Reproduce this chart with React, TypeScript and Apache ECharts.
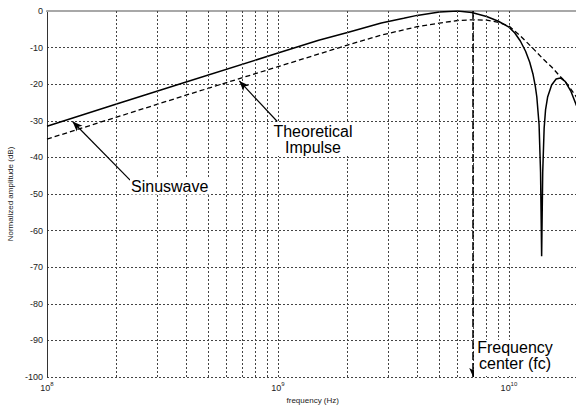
import React, { useEffect, useRef } from "react";
import * as echarts from "echarts";

// Frequency response samples (Hz, dB)
const sinusFreq = [
  1e8, 2e8, 4e8, 1e9, 1.5e9, 2e9, 2.8e9, 3.5e9, 4e9, 5e9, 6e9, 6.9e9, 8e9, 9e9,
  1e10, 1.06e10, 1.12e10, 1.18e10, 1.23e10, 1.27e10, 1.3e10, 1.32e10, 1.35e10,
  1.37e10, 1.385e10, 1.4e10, 1.42e10, 1.44e10, 1.47e10, 1.53e10, 1.6e10,
  1.67e10, 1.75e10, 1.85e10, 1.95e10, 2e10,
];
const sinusDb = [
  -31.5, -25.4, -19.4, -11.5, -8, -5.9, -3.3, -2, -1.2, -0.3, 0, -0.4, -1.5, -2.8,
  -4.4, -6, -8.2, -11, -14, -17.2, -20.5, -23.5, -31,
  -44, -67, -44, -32, -27, -23.5, -20.2, -18.6,
  -18.3, -19.2, -21.8, -25.5, -27,
];

const impulseFreq = [
  1e8, 2e8, 4e8, 1e9, 2e9, 2.8e9, 4e9, 5e9, 6e9, 7e9, 8e9, 9e9, 1e10, 1.12e10,
  1.27e10, 1.4e10, 1.53e10, 1.65e10, 1.75e10, 1.85e10, 1.95e10, 2e10,
];
const impulseDb = [
  -35, -29, -23, -15.2, -9.3, -6.6, -4.3, -3.3, -2.6, -2.4, -2.5, -3.1, -4.1, -6.8,
  -10.2, -13, -15.3, -17.6, -19.2, -21.3, -23.3, -24.5,
];

// Vertical grid positions on the log axis
const gridFreqs = [
  2e8, 3e8, 4e8, 5e8, 6e8, 7e8, 8e8, 9e8, 1e9,
  2e9, 3e9, 4e9, 5e9, 6e9, 7e9, 8e9, 9e9, 1e10,
];

const dbRange = [0, -100];
const centerFreq = 7e9;

// Annotation arrows: [tail, head] in (Hz, dB)
const sinusArrow = [[2.29e8, -46.2], [1.29e8, -30.2]];
const impulseArrow = [[9.93e8, -30.2], [6.8e8, -19.1]];

const FONT = '"Liberation Sans", Arial, Helvetica, sans-serif';

export default function App() {
  const ref = useRef<HTMLDivElement>(null);

  useEffect(() => {
    if (!ref.current) return;
    const chart = echarts.init(ref.current, null, { renderer: "svg" });

    const arrowLine = (pts: number[][]) => [
      { coord: pts[0] },
      { coord: pts[1] },
    ];

    chart.setOption({
      animation: false,
      backgroundColor: "#fff",
      grid: {
        left: 47,
        right: -2.5,
        top: 11,
        bottom: 30,
        outerBoundsMode: "none",
      },
      xAxis: [
        {
          type: "log",
          logBase: 10,
          min: 1e8,
          max: 2e10,
          position: "bottom",
          axisLine: { show: true, lineStyle: { color: "#333", width: 1 } },
          axisTick: { show: false },
          splitLine: { show: false },
          axisLabel: {
            margin: 4,
            color: "#222",
            fontFamily: FONT,
            formatter: (v: number) => {
              const e = Math.log10(v);
              const r = Math.round(e);
              if (Math.abs(e - r) > 1e-6) return "";
              return `{b|10}{s|${r}}`;
            },
            rich: {
              b: { fontSize: 9, fontFamily: FONT, color: "#222" },
              s: {
                fontSize: 6,
                fontFamily: FONT,
                color: "#222",
                padding: [0, 0, 7, 0],
              },
            },
          },
          name: "frequency (Hz)",
          nameLocation: "middle",
          nameGap: 18,
          nameTextStyle: { fontSize: 8, color: "#222", fontFamily: FONT },
        },
        {
          type: "log",
          logBase: 10,
          min: 1e8,
          max: 2e10,
          position: "top",
          axisLine: { show: true, lineStyle: { color: "#a8a8a8", width: 2 } },
          axisTick: { show: false },
          axisLabel: { show: false },
          splitLine: { show: false },
        },
      ],
      yAxis: {
        type: "value",
        min: -100,
        max: 0,
        interval: 10,
        axisLine: { show: true, lineStyle: { color: "#333", width: 1 } },
        axisTick: { show: false },
        axisLabel: { fontSize: 9, color: "#222", fontFamily: FONT, margin: 4 },
        splitLine: {
          show: true,
          lineStyle: { color: "#444", type: [2, 2], width: 1 },
        },
        name: "Normalized amplitude (dB)",
        nameLocation: "middle",
        nameGap: 31,
        nameTextStyle: { fontSize: 8, color: "#222", fontFamily: FONT },
      },
      series: [
        {
          name: "grid",
          type: "line",
          data: [],
          silent: true,
          z: 1,
          markLine: {
            silent: true,
            symbol: ["none", "none"],
            label: { show: false },
            lineStyle: { color: "#444", type: [2, 2], width: 1 },
            data: gridFreqs.map((f) => [
              { coord: [f, dbRange[0]] },
              { coord: [f, dbRange[1]] },
            ]),
          },
        },
        {
          name: "Theoretical Impulse",
          type: "line",
          data: impulseFreq.map((f, i) => [f, impulseDb[i]]),
          showSymbol: false,
          symbol: "none",
          lineStyle: { color: "#000", width: 1.3, type: [5, 3] },
          z: 3,
        },
        {
          name: "Sinuswave",
          type: "line",
          data: sinusFreq.map((f, i) => [f, sinusDb[i]]),
          showSymbol: false,
          symbol: "none",
          lineStyle: { color: "#000", width: 1.5 },
          z: 4,
        },
        {
          name: "fc",
          type: "line",
          data: [],
          silent: true,
          markLine: {
            silent: true,
            symbol: ["none", "arrow"],
            symbolSize: [6, 9],
            label: { show: false },
            lineStyle: { color: "#000", type: [8, 3], width: 1.5 },
            data: [
              [
                { coord: [centerFreq, dbRange[0]] },
                { coord: [centerFreq, dbRange[1]] },
              ],
            ],
          },
        },
        {
          name: "notes",
          type: "line",
          data: [],
          silent: true,
          markLine: {
            silent: true,
            symbol: ["none", "arrow"],
            symbolSize: [6, 10],
            label: { show: false },
            lineStyle: { color: "#000", type: "solid", width: 1.2 },
            data: [arrowLine(sinusArrow), arrowLine(impulseArrow)],
          },
        },
      ],
      graphic: [
        {
          type: "text",
          x: 130,
          y: 186.5,
          z: 100,
          style: {
            text: "Sinuswave",
            fontSize: 16,
            fontFamily: FONT,
            fill: "#000",
            align: "left",
            verticalAlign: "middle",
            backgroundColor: "#fff",
            padding: [0, 1],
          },
        },
        {
          type: "text",
          x: 313,
          y: 139,
          z: 100,
          style: {
            text: "Theoretical\nImpulse",
            fontSize: 16,
            lineHeight: 16,
            fontFamily: FONT,
            fill: "#000",
            align: "center",
            verticalAlign: "middle",
            backgroundColor: "#fff",
            padding: [1, 1],
          },
        },
        {
          type: "rect",
          z: 99,
          shape: { x: 474, y: 340, width: 110, height: 36 },
          style: { fill: "#fff" },
        },
        {
          type: "text",
          x: 515,
          y: 355.7,
          z: 100,
          style: {
            text: "Frequency\ncenter (fc)",
            fontSize: 16,
            lineHeight: 16,
            fontFamily: FONT,
            fill: "#000",
            align: "center",
            verticalAlign: "middle",
          },
        },
      ],
    });

    return () => chart.dispose();
  }, []);

  return (
    <div
      ref={ref}
      style={{ position: "absolute", left: 0, top: 0, width: 576, height: 407 }}
    />
  );
}
